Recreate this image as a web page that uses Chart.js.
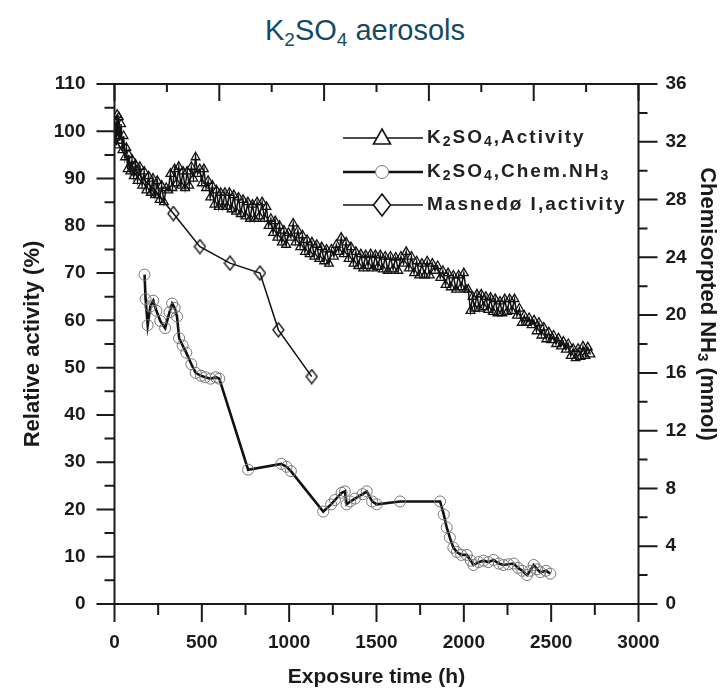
<!DOCTYPE html>
<html>
<head>
<meta charset="utf-8">
<title>K2SO4 aerosols</title>
<script src="https://cdn.jsdelivr.net/npm/chart.js@4.4.1/dist/chart.umd.min.js"></script>
<style>
  html, body { margin: 0; padding: 0; background: #fff; }
  #wrap { position: relative; width: 723px; height: 692px; }
  #title {
    position: absolute; left: 0; top: 12px; width: 730px;
    text-align: center; line-height: 36px;
    font-family: "Liberation Sans", Arial, sans-serif;
    font-size: 29px; color: #164a62;
  }
  #title sub { font-size: 19px; line-height: 0; vertical-align: -6px; }
  #chart { position: absolute; left: 0; top: 0; }
</style>
</head>
<body>
<div id="wrap">
  <div id="title">K<sub>2</sub>SO<sub>4</sub> aerosols</div>
  <canvas id="chart" width="723" height="692"></canvas>
</div>
<script>
// K2SO4 activity (%) against exposure time (h)
const actHours = [
  0, 5, 10, 15, 20, 25, 30, 38, 45, 52, 60, 68, 75, 82, 90, 100, 110, 120, 132, 145,
  158, 170, 182, 195, 208, 220, 232, 245, 258, 270, 283, 296, 308, 320, 332, 344, 356, 368, 380, 392,
  404, 416, 428, 440, 452, 464, 476, 488, 500, 512, 524, 536, 548, 560, 572, 584, 596, 608, 620, 632,
  645, 658, 670, 683, 696, 710, 723, 736, 750, 763, 776, 790, 803, 816, 830, 845, 858, 870, 882, 895,
  908, 920, 932, 945, 958, 970, 983, 996, 1010, 1023, 1036, 1050, 1063, 1076, 1090, 1103, 1117, 1130, 1144, 1158,
  1172, 1186, 1200, 1214, 1228, 1242, 1256, 1270, 1284, 1298, 1312, 1326, 1340, 1354, 1368, 1382, 1396, 1410, 1424, 1438,
  1452, 1466, 1480, 1494, 1508, 1522, 1536, 1550, 1565, 1580, 1595, 1610, 1625, 1640, 1655, 1670, 1685, 1700, 1715, 1730,
  1745, 1760, 1775, 1790, 1805, 1820, 1835, 1850, 1865, 1880, 1895, 1910, 1925, 1940, 1955, 1970, 1985, 2000, 2012, 2025,
  2038, 2050, 2062, 2075, 2088, 2100, 2113, 2126, 2140, 2153, 2166, 2180, 2193, 2207, 2220, 2234, 2248, 2262, 2276, 2290,
  2304, 2318, 2332, 2346, 2360, 2374, 2388, 2402, 2416, 2430, 2444, 2458, 2472, 2486, 2500, 2514, 2528, 2542, 2556, 2570,
  2584, 2598, 2612, 2626, 2640, 2654, 2668, 2682, 2696, 2710, 2725
];
const actValues = [
  98, 102, 97, 103.5, 99, 103, 98, 101.5, 96, 99, 94.5, 96.5, 92, 95, 91.5, 94, 90.5, 93, 89.5, 92.5,
  88.5, 91.5, 87.5, 90.5, 87, 90, 86.5, 89.5, 85.5, 88.5, 85, 88, 87.5, 91, 88, 92, 89, 92.5, 88.5, 91.5,
  88, 91.5, 88.5, 92.5, 90, 94.5, 91, 92, 89, 92, 88, 89.5, 86, 88.5, 84.5, 87.5, 84, 87, 84, 87,
  84, 87, 83.5, 86.5, 83, 86, 82.5, 85.5, 82, 85, 81.5, 84.5, 81.5, 85, 82, 85, 81.5, 84, 80, 81.5,
  78.5, 81, 77.5, 80, 76.5, 79, 76, 78.5, 77.5, 80.5, 76.5, 79, 75.5, 78, 74.5, 77, 74, 76.5, 73.5, 76,
  73, 75.5, 72.5, 75, 72, 75, 73.5, 76, 74.5, 77.5, 74, 76.5, 73, 75.5, 72, 74.5, 71.5, 74, 71, 73.8,
  71.5, 74, 71, 73.8, 71.3, 73.8, 70.8, 73.5, 70.5, 73.5, 70.8, 73.3, 70.5, 73.5, 72, 74.5, 71, 73.5, 70, 72.5,
  69.5, 72, 69.5, 72.5, 69.5, 72, 70.5, 71.5, 69, 70.5, 67.5, 70, 67, 69.5, 66.5, 69.5, 67, 70, 66.5, 66.5,
  62, 65, 62.5, 65.5, 62.5, 65.5, 62.8, 65, 62.2, 64.8, 61.8, 64.5, 61.5, 64, 61.5, 64.5, 61.8, 64.5, 62, 64.5,
  61, 62.5, 59.5, 61, 59.5, 60.5, 59, 60, 57.7, 59.5, 56.8, 58.5, 56, 57.5, 55.8, 56.8, 55, 56.2, 54.5, 55.5,
  53.8, 55, 52.5, 54, 52, 54, 52.3, 54.5, 52.5, 54.3, 52.8
];

// chemisorbed NH3 (mmol), right axis
const nh3Hours = [
  172, 178, 190, 205, 222, 240, 262, 290, 315, 330, 345, 358, 370, 390, 411, 440, 465, 495, 520, 550,
  580, 600, 765, 955, 985, 1010, 1195, 1240, 1262, 1300, 1319, 1329, 1350, 1377, 1420, 1444, 1475, 1501, 1635, 1864,
  1885, 1902, 1920, 1940, 1960, 1985, 2017, 2040, 2055, 2085, 2113, 2140, 2170, 2200, 2227, 2255, 2285, 2310, 2335, 2362,
  2380, 2400, 2420, 2438, 2470, 2495
];
const nh3Values = [
  22.8, 21.1, 19.3, 20.6, 21.0, 20.3, 19.6, 19.1, 20.2, 20.8, 20.5, 19.9, 18.4, 17.9, 17.4, 16.6, 16.0, 15.8, 15.7, 15.6,
  15.7, 15.6, 9.3, 9.7, 9.5, 9.2, 6.4, 6.9, 7.2, 7.7, 7.8, 6.9, 7.1, 7.3, 7.6, 7.8, 7.1, 6.9, 7.1, 7.1,
  6.2, 5.3, 4.6, 3.9, 3.6, 3.4, 3.4, 3.0, 2.7, 2.9, 3.0, 2.9, 3.05, 2.8, 2.7, 2.75, 2.8, 2.5, 2.3, 2.0,
  2.3, 2.7, 2.4, 2.2, 2.3, 2.1
];

// Masnedø I reference activity (%)
const masHours = [0, 110, 230, 337, 489, 661, 833, 938, 1129];
const masValues = [98.5, 92, 87.5, 82.6, 75.6, 72.1, 70.0, 58.0, 48.1];

const FONT = '"Liberation Sans", Arial, sans-serif';
const INK = '#1a1a1a';

function toPoints(xs, ys) {
  return xs.map((x, i) => ({ x: x, y: ys[i] }));
}

// taller-than-wide diamond used for the Masnedø markers
function diamondMarker(w, h, lw) {
  const c = document.createElement('canvas');
  c.width = w + 2; c.height = h + 2;
  const g = c.getContext('2d');
  g.strokeStyle = '#111';
  g.lineWidth = lw;
  g.beginPath();
  g.moveTo(c.width / 2, 1);
  g.lineTo(c.width - 1, c.height / 2);
  g.lineTo(c.width / 2, c.height - 1);
  g.lineTo(1, c.height / 2);
  g.closePath();
  g.stroke();
  return c;
}

// frame with inward/outward ticks like the original plot
const frameTicks = {
  id: 'frameTicks',
  afterDraw(chart) {
    const { ctx, chartArea: a, scales } = chart;
    ctx.save();
    ctx.strokeStyle = INK;
    ctx.lineWidth = 2;
    ctx.strokeRect(a.left, a.top, a.right - a.left, a.bottom - a.top);
    ctx.beginPath();
    for (let v = 0; v <= 110; v += 5) {
      const y = scales.y.getPixelForValue(v);
      const len = v % 10 === 0 ? 18 : 10;
      ctx.moveTo(a.left - len, y); ctx.lineTo(a.left, y);
    }
    for (let v = 0; v <= 36; v += 2) {
      const y = scales.y2.getPixelForValue(v);
      const len = v % 4 === 0 ? 19 : 9;
      ctx.moveTo(a.right, y); ctx.lineTo(a.right + len, y);
    }
    for (let v = 0; v <= 3000; v += 250) {
      const x = scales.x.getPixelForValue(v);
      const len = v % 500 === 0 ? 18 : 11;
      ctx.moveTo(x, a.bottom); ctx.lineTo(x, a.bottom + len);
    }
    for (let v = 0; v <= 3000; v += 300) {
      const x = scales.x.getPixelForValue(v);
      const len = v % 600 === 0 ? 17 : 8;
      ctx.moveTo(x, a.top); ctx.lineTo(x, a.top + len);
    }
    ctx.stroke();

    // right axis title, read top to bottom, NH3 with subscript
    ctx.translate(707, 304);
    ctx.rotate(Math.PI / 2);
    ctx.fillStyle = INK;
    ctx.textBaseline = 'middle';
    const parts = [['Chemisorpted NH', 22, 0], ['3', 15, 5], [' (mmol)', 22, 0]];
    let total = 0;
    parts.forEach(p => { ctx.font = 'bold ' + p[1] + 'px ' + FONT; total += ctx.measureText(p[0]).width; });
    let x = -total / 2;
    parts.forEach(p => {
      ctx.font = 'bold ' + p[1] + 'px ' + FONT;
      ctx.fillText(p[0], x, p[2]);
      x += ctx.measureText(p[0]).width;
    });
    ctx.restore();
  }
};

// legend box: line, marker in the middle, label with subscripts
const legendBox = {
  id: 'legendBox',
  afterDraw(chart) {
    const ctx = chart.ctx;
    const rows = [
      { y: 138, lw: 1.5, mark: 'tri', parts: [['K'], ['2', 1], ['SO'], ['4', 1], [',Activity']] },
      { y: 172, lw: 2.6, mark: 'circ', parts: [['K'], ['2', 1], ['SO'], ['4', 1], [',Chem.NH'], ['3', 1]] },
      { y: 205, lw: 1.5, mark: 'dia', parts: [['Masnedø I,activity']] }
    ];
    ctx.save();
    rows.forEach(r => {
      ctx.strokeStyle = '#111';
      ctx.lineWidth = r.lw;
      ctx.beginPath();
      ctx.moveTo(343, r.y); ctx.lineTo(423, r.y);
      ctx.stroke();
      const mx = 382;
      ctx.beginPath();
      if (r.mark === 'tri') {
        ctx.lineWidth = 1.6;
        ctx.moveTo(mx, r.y - 9); ctx.lineTo(mx + 8.5, r.y + 6); ctx.lineTo(mx - 8.5, r.y + 6); ctx.closePath();
        ctx.fillStyle = '#fff'; ctx.fill(); ctx.stroke();
      } else if (r.mark === 'circ') {
        ctx.lineWidth = 1;
        ctx.strokeStyle = '#777';
        ctx.arc(mx, r.y, 6.5, 0, Math.PI * 2);
        ctx.fillStyle = '#fff'; ctx.fill(); ctx.stroke();
      } else {
        ctx.lineWidth = 1.6;
        ctx.moveTo(mx, r.y - 11); ctx.lineTo(mx + 8.5, r.y); ctx.lineTo(mx, r.y + 11); ctx.lineTo(mx - 8.5, r.y); ctx.closePath();
        ctx.fillStyle = '#fff'; ctx.fill(); ctx.stroke();
      }
      let x = 427;
      ctx.fillStyle = '#222';
      ctx.textBaseline = 'middle';
      ctx.letterSpacing = '2px';
      r.parts.forEach(p => {
        const sub = p[1] === 1;
        ctx.font = (sub ? 'bold 14px ' : 'bold 19px ') + FONT;
        ctx.fillText(p[0], x, sub ? r.y + 4 : r.y);
        x += ctx.measureText(p[0]).width;
      });
    });
    ctx.restore();
  }
};

const tickFont = { family: FONT, size: 19, weight: 'bold' };
const plainNumber = v => String(v);

new Chart(document.getElementById('chart'), {
  type: 'line',
  data: {
    datasets: [
      {
        label: 'K2SO4,Activity',
        data: toPoints(actHours, actValues),
        yAxisID: 'y',
        borderColor: '#111',
        borderWidth: 1.5,
        pointStyle: 'triangle',
        pointRadius: 5,
        pointBorderWidth: 1.3,
        pointBorderColor: '#111',
        pointBackgroundColor: 'rgba(255,255,255,0)',
        tension: 0
      },
      {
        label: 'K2SO4,Chem.NH3',
        data: toPoints(nh3Hours, nh3Values),
        yAxisID: 'y2',
        borderColor: '#111',
        borderWidth: 2.6,
        pointStyle: 'circle',
        pointRadius: 5.5,
        pointBorderWidth: 1,
        pointBorderColor: '#777',
        pointBackgroundColor: 'rgba(255,255,255,0)',
        tension: 0
      },
      {
        label: 'Masnedø I,activity',
        data: toPoints(masHours, masValues),
        yAxisID: 'y',
        borderColor: '#111',
        borderWidth: 1.5,
        pointStyle: diamondMarker(11, 14, 1.3),
        pointRadius: 6,
        tension: 0
      }
    ]
  },
  options: {
    responsive: false,
    animation: false,
    layout: { padding: { top: 84, left: 0, right: 0, bottom: 0 } },
    plugins: { legend: { display: false }, tooltip: { enabled: false } },
    scales: {
      x: {
        type: 'linear', position: 'bottom', min: 0, max: 3000,
        afterFit: s => { s.height = 88; },
        ticks: { stepSize: 500, font: tickFont, color: INK, padding: 27, maxRotation: 0, callback: plainNumber },
        grid: { display: false, drawTicks: false },
        border: { display: false },
        title: { display: true, text: 'Exposure time (h)', font: { family: FONT, size: 21, weight: 'bold' }, color: INK, padding: { top: 0, bottom: 2 } }
      },
      y: {
        type: 'linear', position: 'left', min: 0, max: 110,
        afterFit: s => { s.width = 114.5; },
        ticks: { stepSize: 10, font: tickFont, color: INK, padding: 29, callback: plainNumber },
        grid: { display: false, drawTicks: false },
        border: { display: false },
        title: { display: true, text: 'Relative activity (%)', font: { family: FONT, size: 22, weight: 'bold' }, color: INK, padding: { top: 20, bottom: 0 } }
      },
      y2: {
        type: 'linear', position: 'right', min: 0, max: 36,
        afterFit: s => { s.width = 84.5; },
        ticks: { stepSize: 4, font: tickFont, color: INK, padding: 27, callback: plainNumber },
        grid: { display: false, drawTicks: false },
        border: { display: false }
      }
    }
  },
  plugins: [frameTicks, legendBox]
});
</script>
</body>
</html>
